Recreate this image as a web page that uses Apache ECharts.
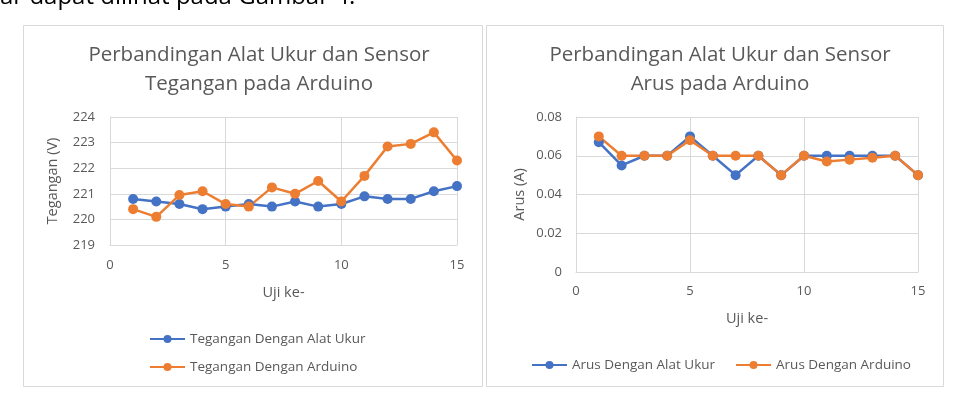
<!DOCTYPE html>
<html>
<head>
<meta charset="utf-8">
<script src="https://cdn.jsdelivr.net/npm/echarts@6/dist/echarts.min.js"></script>
<style>
  html, body { margin: 0; padding: 0; background: #fff; }
  #chart { width: 960px; height: 414px; }
</style>
</head>
<body>
<div id="chart"></div>
<script>
// data
var ujiKe = [1, 2, 3, 4, 5, 6, 7, 8, 9, 10, 11, 12, 13, 14, 15];
var teganganAlatUkur = [220.8, 220.7, 220.6, 220.4, 220.5, 220.6, 220.5, 220.7, 220.5, 220.6, 220.9, 220.8, 220.8, 221.1, 221.3];
var teganganArduino = [220.4, 220.1, 220.95, 221.1, 220.6, 220.5, 221.25, 221.0, 221.5, 220.7, 221.7, 222.85, 222.95, 223.4, 222.3];
var arusAlatUkur = [0.067, 0.055, 0.06, 0.06, 0.07, 0.06, 0.05, 0.06, 0.05, 0.06, 0.06, 0.06, 0.06, 0.06, 0.05];
var arusArduino = [0.07, 0.06, 0.06, 0.06, 0.068, 0.06, 0.06, 0.06, 0.05, 0.06, 0.057, 0.058, 0.059, 0.06, 0.05];

var BLUE = '#4472C4', ORANGE = '#ED7D31';
var GRID_C = '#d9d9d9', TEXT_C = '#595959';
var FONT = 'Open Sans';

function pairs(ys) {
  return ujiKe.map(function (x, i) { return [x, ys[i]]; });
}

function lineSeries(name, ys, color, idx) {
  return {
    name: name,
    type: 'line',
    xAxisIndex: idx,
    yAxisIndex: idx,
    data: pairs(ys),
    symbol: 'circle',
    symbolSize: 10,
    lineStyle: { color: color, width: 2.5 },
    itemStyle: { color: color },
    animation: false
  };
}

function xAxisOpt(idx, gap, margin) {
  return {
    type: 'value', gridIndex: idx, min: 0, max: 15, interval: 5,
    name: 'Uji ke-', nameLocation: 'middle', nameGap: gap,
    nameTextStyle: { color: TEXT_C, fontSize: 14.5, fontFamily: FONT },
    axisLine: { lineStyle: { color: GRID_C } },
    axisTick: { show: false },
    axisLabel: { color: TEXT_C, fontSize: 13, fontFamily: FONT, margin: margin },
    splitLine: { lineStyle: { color: GRID_C } }
  };
}

function yAxisOpt(idx, name, min, max, interval, gap, margin) {
  return {
    type: 'value', gridIndex: idx, min: min, max: max, interval: interval,
    name: name, nameLocation: 'middle', nameGap: gap,
    nameTextStyle: { color: TEXT_C, fontSize: 14.5, fontFamily: FONT },
    axisLine: { show: true, lineStyle: { color: GRID_C } },
    axisTick: { show: false },
    axisLabel: { color: TEXT_C, fontSize: 13, fontFamily: FONT, margin: margin },
    splitLine: { lineStyle: { color: GRID_C } }
  };
}

var chart = echarts.init(document.getElementById('chart'));
var option = {
  backgroundColor: '#fff',
  textStyle: { fontFamily: FONT },
  title: [
    { text: 'Perbandingan Alat Ukur dan Sensor\nTegangan pada Arduino', left: 254, top: 36, textAlign: 'center',
      textStyle: { color: TEXT_C, fontSize: 20.5, fontWeight: 'normal', lineHeight: 29, fontFamily: FONT } },
    { text: 'Perbandingan Alat Ukur dan Sensor\nArus pada Arduino', left: 715, top: 36, textAlign: 'center',
      textStyle: { color: TEXT_C, fontSize: 20.5, fontWeight: 'normal', lineHeight: 29, fontFamily: FONT } }
  ],
  graphic: [
    { type: 'text', left: 0, top: -15, style: { text: 'ar dapat dilihat pada Gambar 4.', fill: '#000', font: '24px "Open Sans"' } },
    { type: 'rect', shape: { x: 23.5, y: 25.5, width: 459, height: 361 }, style: { fill: 'none', stroke: GRID_C, lineWidth: 1 } },
    { type: 'rect', shape: { x: 486.5, y: 25.5, width: 457, height: 361 }, style: { fill: 'none', stroke: GRID_C, lineWidth: 1 } }
  ],
  legend: [
    { data: ['Tegangan Dengan Alat Ukur', 'Tegangan Dengan Arduino'], orient: 'vertical', left: 144, top: 327,
      itemWidth: 35, itemHeight: 10, itemGap: 14,
      textStyle: { color: TEXT_C, fontSize: 13.5, fontFamily: FONT } },
    { data: ['Arus Dengan Alat Ukur', 'Arus Dengan Arduino'], orient: 'horizontal', left: 526, top: 353,
      itemWidth: 35, itemHeight: 10, itemGap: 20,
      textStyle: { color: TEXT_C, fontSize: 13.5, fontFamily: FONT } }
  ],
  grid: [
    { left: 110, top: 117, width: 347, height: 128 },
    { left: 576, top: 117, width: 342, height: 155 }
  ],
  xAxis: [xAxisOpt(0, 40, 14), xAxisOpt(1, 39, 13)],
  yAxis: [
    yAxisOpt(0, 'Tegangan (V)', 219, 224, 1, 50, 15),
    yAxisOpt(1, 'Arus (A)', 0, 0.08, 0.02, 49, 14)
  ],
  series: [
    lineSeries('Tegangan Dengan Alat Ukur', teganganAlatUkur, BLUE, 0),
    lineSeries('Tegangan Dengan Arduino', teganganArduino, ORANGE, 0),
    lineSeries('Arus Dengan Alat Ukur', arusAlatUkur, BLUE, 1),
    lineSeries('Arus Dengan Arduino', arusArduino, ORANGE, 1)
  ]
};
chart.setOption(option);
</script>
</body>
</html>
